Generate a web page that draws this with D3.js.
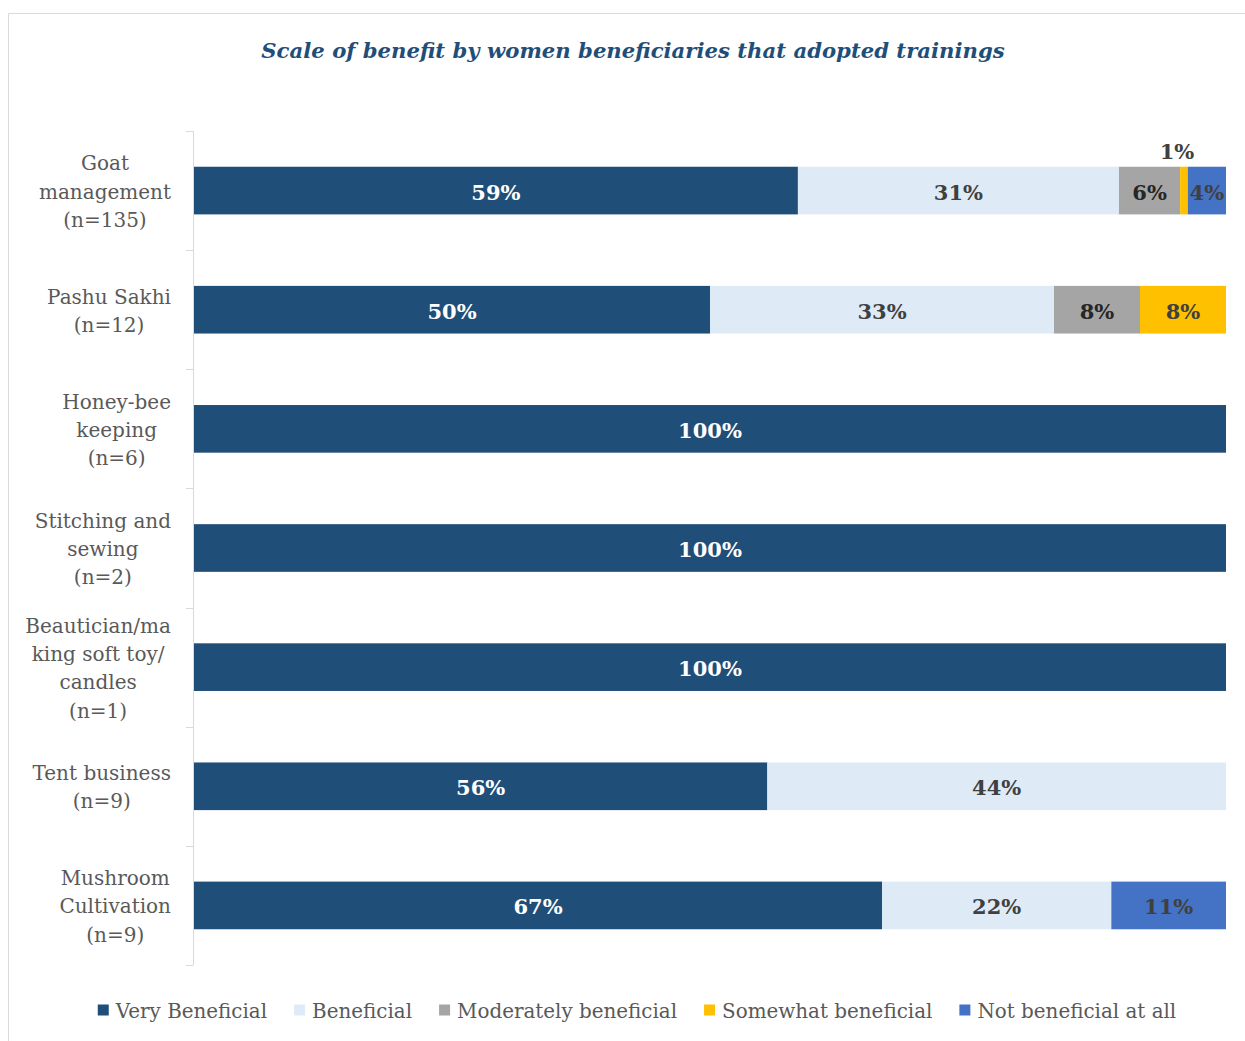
<!DOCTYPE html>
<html>
<head>
<meta charset="utf-8">
<script src="https://cdn.jsdelivr.net/npm/d3@7"></script>
<style>
  html, body { margin: 0; padding: 0; background: #fff; }
  svg { display: block; }
  text { font-family: "DejaVu Serif", "Liberation Serif", serif; }
</style>
</head>
<body>
<svg id="chart" width="1245" height="1041"></svg>
<script>
// Trainings (label lines) and respondent counts
const categoryLines = [
  ["Goat", "management", "(n=135)"],
  ["Pashu Sakhi", "(n=12)"],
  ["Honey-bee", "keeping", "(n=6)"],
  ["Stitching and", "sewing", "(n=2)"],
  ["Beautician/ma", "king soft toy/", "candles", "(n=1)"],
  ["Tent business", "(n=9)"],
  ["Mushroom", "Cultivation", "(n=9)"]
];
const sampleSizes = [135, 12, 6, 2, 1, 9, 9];

// Number of women in each benefit rating, per training
const veryBeneficial       = [79, 6, 6, 2, 1, 5, 6];
const beneficial           = [42, 4, 0, 0, 0, 4, 2];
const moderatelyBeneficial = [8, 1, 0, 0, 0, 0, 0];
const somewhatBeneficial   = [1, 1, 0, 0, 0, 0, 0];
const notBeneficial        = [5, 0, 0, 0, 0, 0, 1];

const seriesNames = ["Very Beneficial", "Beneficial", "Moderately beneficial",
                     "Somewhat beneficial", "Not beneficial at all"];
const seriesColors = ["#1F4E79", "#DEEBF7", "#A5A5A5", "#FFC000", "#4472C4"];
const labelColors  = ["#FFFFFF", "#404040", "#262626", "#404040", "#404040"];

const titleText = "Scale of benefit by women beneficiaries that adopted trainings";

// Build rows of shares (count / n) for stacking
const seriesCounts = [veryBeneficial, beneficial, moderatelyBeneficial, somewhatBeneficial, notBeneficial];
const rows = categoryLines.map((lines, i) => {
  const row = { key: lines.join(" "), lines };
  seriesNames.forEach((s, j) => { row[s] = seriesCounts[j][i] / sampleSizes[i]; });
  return row;
});

const svg = d3.select("#chart");

// Chart frame (left and top edges)
svg.append("path")
  .attr("d", "M8.5,1041 V13.5 H1245")
  .attr("fill", "none")
  .attr("stroke", "#D9D9D9")
  .attr("stroke-width", 1);

// Title
svg.append("text")
  .attr("x", 633)
  .attr("y", 50)
  .attr("text-anchor", "middle")
  .attr("dominant-baseline", "central")
  .attr("font-size", 21.2)
  .attr("font-weight", "bold")
  .attr("font-style", "italic")
  .attr("fill", "#1F4E79")
  .text(titleText);

const x = d3.scaleLinear().domain([0, 1]).range([194, 1226]);
const y = d3.scaleBand()
  .domain(rows.map(d => d.key))
  .range([131, 965])
  .paddingInner(0.6)
  .paddingOuter(0.3);

const stack = d3.stack().keys(seriesNames);
const stacked = stack(rows);

// Bars
const layers = svg.append("g").selectAll("g")
  .data(stacked)
  .join("g")
  .attr("fill", (d, i) => seriesColors[i]);

layers.selectAll("rect")
  .data(d => d.filter(p => p[1] - p[0] > 0))
  .join("rect")
  .attr("x", p => x(p[0]))
  .attr("y", p => y(p.data.key))
  .attr("width", p => x(p[1]) - x(p[0]))
  .attr("height", y.bandwidth());

// Value labels
const fmt = d3.format(".0%");
stacked.forEach((layer, i) => {
  layer.forEach(p => {
    const v = p[1] - p[0];
    if (v <= 0) return;
    const w = x(p[1]) - x(p[0]);
    const cx = (x(p[0]) + x(p[1])) / 2;
    const cy = y(p.data.key) + y.bandwidth() / 2 + 1.5;
    const narrow = w < 20;
    svg.append("text")
      .attr("x", narrow ? cx - 7 : cx)
      .attr("y", narrow ? y(p.data.key) - 15 : cy)
      .attr("text-anchor", "middle")
      .attr("dominant-baseline", "central")
      .attr("font-size", 21)
      .attr("font-weight", "bold")
      .attr("fill", narrow ? "#404040" : labelColors[i])
      .text(fmt(v));
  });
});

// Category axis: line plus ticks at band boundaries
const axisX = 193.5;
const axis = svg.append("g").attr("stroke", "#D9D9D9").attr("stroke-width", 1);
axis.append("line")
  .attr("x1", axisX).attr("x2", axisX)
  .attr("y1", y.range()[0]).attr("y2", y.range()[1]);
d3.range(rows.length + 1).forEach(i => {
  const ty = Math.round(y.range()[0] + i * y.step()) + 0.5;
  axis.append("line")
    .attr("x1", 186).attr("x2", axisX)
    .attr("y1", ty).attr("y2", ty);
});

// Category labels: lines centred within a block right-aligned to the axis
const lineH = 28.3;
rows.forEach(r => {
  const g = svg.append("g");
  const n = r.lines.length;
  const cy = y(r.key) + y.bandwidth() / 2 + 1;
  const texts = r.lines.map((t, k) => g.append("text")
    .attr("y", cy + (k - (n - 1) / 2) * lineH)
    .attr("dominant-baseline", "central")
    .attr("text-anchor", "middle")
    .attr("font-size", 20)
    .attr("fill", "#595959")
    .text(t));
  const maxW = d3.max(texts, t => t.node().getComputedTextLength());
  const centre = 171 - maxW / 2;
  texts.forEach(t => t.attr("x", centre));
});

// Legend
const legend = svg.append("g");
const sw = 11, gapSwatch = 7, gapItem = 27, legendY = 1010;
const items = seriesNames.map((name, i) => {
  const g = legend.append("g");
  g.append("rect")
    .attr("y", legendY - sw / 2)
    .attr("width", sw).attr("height", sw)
    .attr("fill", seriesColors[i]);
  const t = g.append("text")
    .attr("x", sw + gapSwatch)
    .attr("y", legendY + 1)
    .attr("dominant-baseline", "central")
    .attr("font-size", 19.9)
    .attr("fill", "#595959")
    .text(name);
  return { g, w: sw + gapSwatch + t.node().getComputedTextLength() };
});
const total = d3.sum(items, d => d.w) + gapItem * (items.length - 1);
let cursor = 637 - total / 2;
items.forEach(it => {
  it.g.attr("transform", `translate(${cursor},0)`);
  cursor += it.w + gapItem;
});
</script>
</body>
</html>
